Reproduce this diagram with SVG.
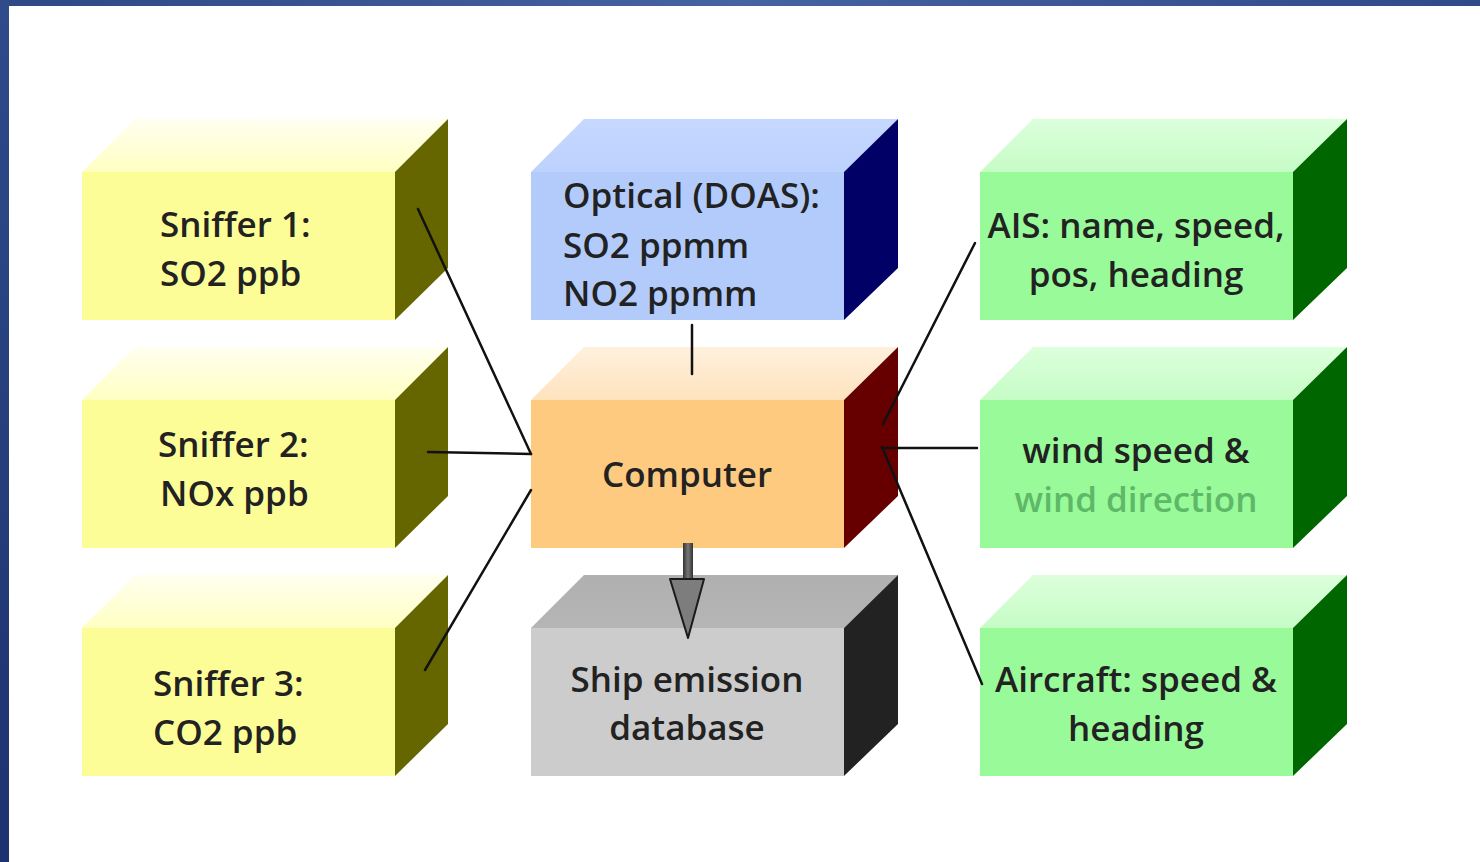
<svg xmlns="http://www.w3.org/2000/svg" width="1480" height="862" viewBox="0 0 1480 862">
<defs>
<linearGradient id="bandTop" x1="0" y1="0" x2="1" y2="0">
<stop offset="0" stop-color="#2e4886"/><stop offset="0.5" stop-color="#4562a2"/><stop offset="1" stop-color="#2f4a8a"/>
</linearGradient>
<linearGradient id="bandLeft" x1="0" y1="0" x2="0" y2="1">
<stop offset="0" stop-color="#304b8a"/><stop offset="1" stop-color="#1d326f"/>
</linearGradient>
<linearGradient id="topY" x1="0" y1="1" x2="0" y2="0"><stop offset="0" stop-color="#ffffc2"/><stop offset="1" stop-color="#fffff0"/></linearGradient>
<linearGradient id="topB" x1="0" y1="1" x2="0" y2="0"><stop offset="0" stop-color="#bcd1fd"/><stop offset="1" stop-color="#c6d8ff"/></linearGradient>
<linearGradient id="topO" x1="0" y1="1" x2="0" y2="0"><stop offset="0" stop-color="#fee3bd"/><stop offset="1" stop-color="#fff0de"/></linearGradient>
<linearGradient id="topG" x1="0" y1="1" x2="0" y2="0"><stop offset="0" stop-color="#c6fcc6"/><stop offset="1" stop-color="#dcffdc"/></linearGradient>
<linearGradient id="topK" x1="0" y1="1" x2="0" y2="0"><stop offset="0" stop-color="#b5b5b5"/><stop offset="1" stop-color="#b0b0b0"/></linearGradient>
<linearGradient id="shaft" x1="0" y1="0" x2="1" y2="0"><stop offset="0" stop-color="#333"/><stop offset="0.5" stop-color="#777"/><stop offset="1" stop-color="#333"/></linearGradient>
</defs>
<style>
.txt{font-family:"Open Sans","Noto Sans","Liberation Sans",sans-serif;font-size:35px;font-weight:600;fill:#222222}
.c{text-anchor:middle}
.con{stroke:#111;stroke-width:2.5;fill:none;stroke-linecap:round}
.fy{fill:#fdfd98}.ry{fill:#666600}
.fb{fill:#b3cbfb}.rb{fill:#000066}
.fo{fill:#fdca80}.ro{fill:#660000}
.fg{fill:#99fa99}.rg{fill:#006600}
.fk{fill:#cccccc}.rk{fill:#222222}
</style>
<rect x="0" y="0" width="1480" height="862" fill="#ffffff"/>
<rect x="0" y="0" width="1480" height="6" fill="url(#bandTop)"/>
<rect x="0" y="0" width="9" height="862" fill="url(#bandLeft)"/>

<g id="sniffer1">
<polygon points="82,172 135,119 448,119 395,172" fill="url(#topY)"/>
<polygon class="ry" points="395,172 448,119 448,268 395,320"/>
<rect class="fy" x="82" y="172" width="313" height="148"/>
<text class="txt" x="160" y="237">Sniffer 1:</text>
<text class="txt" x="160" y="286">SO2 ppb</text>
</g>
<g id="sniffer2">
<polygon points="82,400 135,347 448,347 395,400" fill="url(#topY)"/>
<polygon class="ry" points="395,400 448,347 448,496 395,548"/>
<rect class="fy" x="82" y="400" width="313" height="148"/>
<text class="txt" x="158" y="457">Sniffer 2:</text>
<text class="txt" x="160" y="506">NOx ppb</text>
</g>
<g id="sniffer3">
<polygon points="82,628 135,575 448,575 395,628" fill="url(#topY)"/>
<polygon class="ry" points="395,628 448,575 448,724 395,776"/>
<rect class="fy" x="82" y="628" width="313" height="148"/>
<text class="txt" x="153" y="696">Sniffer 3:</text>
<text class="txt" x="153" y="745">CO2 ppb</text>
</g>

<g id="optical">
<polygon points="531,172 584,119 898,119 844,172" fill="url(#topB)"/>
<polygon class="rb" points="844,172 898,119 898,268 844,320"/>
<rect class="fb" x="531" y="172" width="313" height="148"/>
<text class="txt" x="563" y="208">Optical (DOAS):</text>
<text class="txt" x="563" y="258">SO2 ppmm</text>
<text class="txt" x="563" y="306">NO2 ppmm</text>
</g>
<g id="computer">
<polygon points="531,400 584,347 898,347 844,400" fill="url(#topO)"/>
<polygon class="ro" points="844,400 898,347 898,496 844,548"/>
<rect class="fo" x="531" y="400" width="313" height="148"/>
<text class="txt c" x="687" y="487">Computer</text>
</g>
<g id="database">
<polygon points="531,628 584,575 898,575 844,628" fill="url(#topK)"/>
<polygon class="rk" points="844,628 898,575 898,724 844,776"/>
<rect class="fk" x="531" y="628" width="313" height="148"/>
<text class="txt c" x="687" y="692">Ship emission</text>
<text class="txt c" x="687" y="740">database</text>
</g>

<g id="ais">
<polygon points="980,172 1033,119 1347,119 1293,172" fill="url(#topG)"/>
<polygon class="rg" points="1293,172 1347,119 1347,268 1293,320"/>
<rect class="fg" x="980" y="172" width="313" height="148"/>
<text class="txt c" x="1136" y="238">AIS: name, speed,</text>
<text class="txt c" x="1136" y="287">pos, heading</text>
</g>
<g id="wind">
<polygon points="980,400 1033,347 1347,347 1293,400" fill="url(#topG)"/>
<polygon class="rg" points="1293,400 1347,347 1347,496 1293,548"/>
<rect class="fg" x="980" y="400" width="313" height="148"/>
<text class="txt c" x="1136" y="463">wind speed &amp;</text>
<text class="txt c" x="1136" y="512" style="fill:#5fb868">wind direction</text>
</g>
<g id="aircraft">
<polygon points="980,628 1033,575 1347,575 1293,628" fill="url(#topG)"/>
<polygon class="rg" points="1293,628 1347,575 1347,724 1293,776"/>
<rect class="fg" x="980" y="628" width="313" height="148"/>
<text class="txt c" x="1136" y="692">Aircraft: speed &amp;</text>
<text class="txt c" x="1136" y="741">heading</text>
</g>

<g id="connectors">
<line class="con" x1="418" y1="209" x2="531" y2="454"/>
<line class="con" x1="428" y1="452" x2="531" y2="454"/>
<line class="con" x1="425" y1="670" x2="531" y2="490"/>
<line class="con" x1="692" y1="325" x2="692" y2="374"/>
<line class="con" x1="975" y1="243" x2="883" y2="424"/>
<line class="con" x1="977" y1="448" x2="882" y2="448"/>
<line class="con" x1="882" y1="447" x2="982" y2="684"/>
<rect x="683" y="543" width="10" height="37" fill="url(#shaft)"/>
<polygon points="670,579 704,579 688,638" fill="#7d7d7d" stroke="#1a1a1a" stroke-width="2" stroke-linejoin="round"/>
</g>
</svg>
